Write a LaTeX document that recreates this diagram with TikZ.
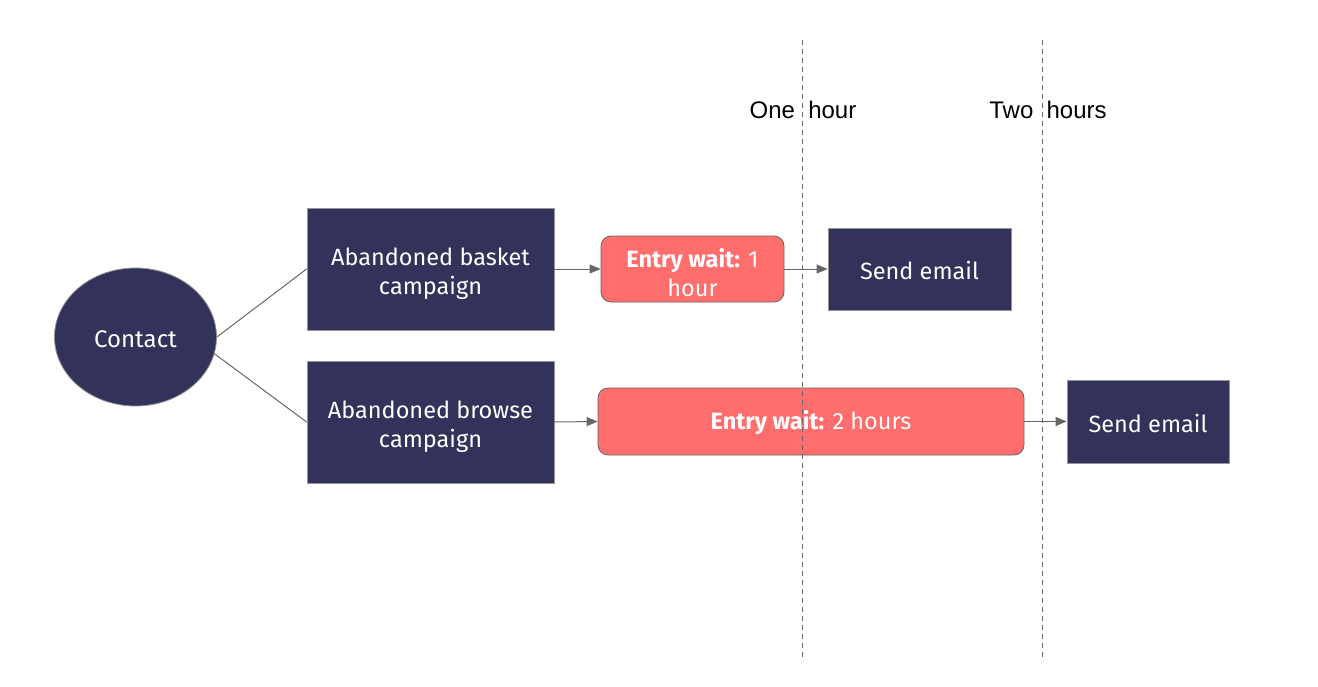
\documentclass[tikz,border=0pt]{standalone}
\usepackage{fontspec}
\setmainfont{Fira Sans}
\newfontfamily\arialfont{Liberation Sans}
\usetikzlibrary{shapes.geometric,arrows.meta}
\definecolor{navy}{HTML}{32325A}
\definecolor{coral}{HTML}{FF6D6D}
\definecolor{edge}{HTML}{666666}
\newcommand\dropbig{\rule{0pt}{26pt}}
\newcommand\dropsmall{\rule{0pt}{22pt}}
\begin{document}
\begin{tikzpicture}[x=1pt,y=-1pt,
  darkbox/.style={draw=edge!70, line width=0.8pt, fill=navy, text=white, align=center, font=\fontsize{23.5}{29}\selectfont, inner sep=0pt},
  waitbox/.style={draw=edge, line width=0.8pt, fill=coral, text=white, rounded corners=10pt, align=center, font=\fontsize{23.5}{29}\selectfont, inner sep=0pt},
  conn/.style={draw=edge, line width=1pt},
  arr/.style={conn, -{Triangle[length=11pt,width=9pt]}},
  guide/.style={draw=edge, line width=0.9pt, dash pattern=on 5pt off 4pt},
  timelabel/.style={font=\arialfont\fontsize{24}{27}\selectfont, inner sep=0pt}
]
\useasboundingbox (0,0) rectangle (1318,686);
\node[ellipse, draw=edge!70, line width=0.8pt, fill=navy, text=white, minimum width=162pt, minimum height=138pt, inner sep=0pt, font=\fontsize{24}{29}\selectfont] (contact) at (135.5,337) {\dropsmall Contact};
\node[darkbox, minimum width=247pt, minimum height=122pt] (basket) at (430.5,269) {\dropbig Abandoned basket\\campaign};
\node[darkbox, minimum width=247pt, minimum height=122pt] (browse) at (430.5,422) {\dropbig Abandoned browse\\campaign};
\node[waitbox, minimum width=183pt, minimum height=66pt] (wait1) at (692.5,269) {\dropbig\textbf{Entry wait:} 1\\hour};
\node[waitbox, minimum width=426pt, minimum height=67pt] (wait2) at (811,421.5) {\dropsmall\textbf{Entry wait:} 2 hours};
\node[darkbox, minimum width=183pt, minimum height=82pt] (send1) at (919.5,269) {\dropsmall Send email};
\node[darkbox, minimum width=162pt, minimum height=83pt] (send2) at (1148,421.5) {\dropsmall Send email};
\coordinate (d1top) at (802,40);
\coordinate (d1bot) at (802,660);
\coordinate (d2top) at (1042,40);
\coordinate (d2bot) at (1042,660);
\draw[guide] (d1top) -- (d1bot);
\draw[guide] (d2top) -- (d2bot);
\node[timelabel] (one) at (803,110) {One\hspace{0.55em}hour};
\node[timelabel] (two) at (1048,110) {Two\hspace{0.55em}hours};
\draw[conn] (contact.east) -- (basket.west);
\draw[conn] (contact.-12) -- (browse.west);
\draw[arr] (basket.east) -- (wait1.west);
\draw[arr] (wait1.east) -- (send1.west);
\draw[arr] (browse.east) -- (wait2.west);
\draw[arr] (wait2.east) -- (send2.west);
\end{tikzpicture}
\end{document}
